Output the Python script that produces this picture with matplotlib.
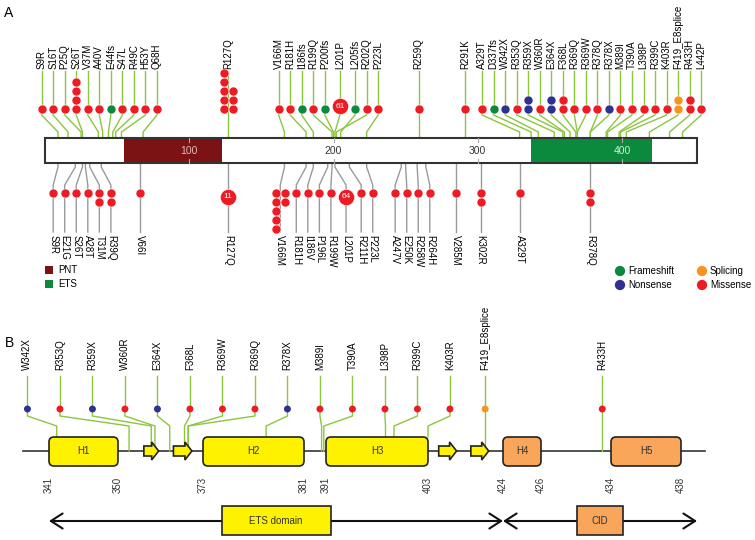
import numpy as np
import matplotlib
matplotlib.use("Agg")
import matplotlib.pyplot as plt
from matplotlib.patches import Rectangle, FancyBboxPatch, Polygon

plt.rcParams["font.family"] = ["Liberation Sans", "DejaVu Sans"]

# ---------------- panel A data ----------------
protein_len = 452
domain_names = ["PNT", "ETS"]
domain_start = [55, 337]
domain_end = [123, 421]
axis_ticks = [100, 200, 300, 400]

top_names = ["S9R", "S16T", "P25Q", "S26T", "V37M", "A40V", "E44fs", "S47L", "R49C",
             "H53Y", "Q68H", "R127Q", "V166M", "R181H", "I186fs", "R199Q", "P200fs",
             "L201P", "L205fs", "R202Q", "P223L", "R259Q", "R291K", "A329T", "D337fs",
             "W342X", "R353Q", "R359X", "W360R", "E364X", "F368L", "R369Q", "R369W",
             "R378Q", "R378X", "M389I", "T390A", "L398P", "R399C", "K403R",
             "F419_E8splice", "R433H", "L442P"]
top_pos = [9, 16, 25, 26, 37, 40, 44, 47, 49, 53, 68, 127, 166, 181, 186, 199, 200,
           201, 205, 202, 223, 259, 291, 329, 337, 342, 353, 359, 360, 364, 368, 369,
           369, 378, 378, 389, 390, 398, 399, 403, 419, 433, 442]
top_count = [1, 1, 1, 4, 1, 1, 1, 1, 1, 1, 1, 8, 1, 1, 1, 1, 1, 61, 1, 1, 1, 1, 1, 1,
             1, 1, 1, 2, 1, 2, 2, 1, 1, 1, 1, 1, 1, 1, 1, 1, 2, 2, 1]
top_class = ["M", "M", "M", "M", "M", "M", "F", "M", "M", "M", "M", "M", "M", "M", "F",
             "M", "F", "M", "F", "M", "M", "M", "M", "M", "F", "N", "M", "N", "M", "N",
             "M", "M", "M", "M", "N", "M", "M", "M", "M", "M", "S", "M", "M"]

bottom_names = ["S9R", "E21G", "S26T", "A28T", "T31M", "R39Q", "V66I", "R127Q", "V166M",
                "R181H", "I186V", "P196L", "R199W", "L201P", "R211H", "P223L", "A247V",
                "E250K", "R258W", "R264H", "V285M", "K302R", "A329T", "R378Q"]
bottom_pos = [9, 21, 26, 28, 31, 39, 66, 127, 166, 181, 186, 196, 199, 201, 211, 223,
              247, 250, 258, 264, 285, 302, 329, 378]
bottom_count = [1, 1, 1, 1, 2, 2, 1, 11, 7, 1, 1, 1, 1, 64, 1, 1, 1, 1, 1, 1, 1, 2, 1, 2]
bottom_class = ["M"] * len(bottom_names)

class_names = {"F": "Frameshift", "N": "Nonsense", "S": "Splicing", "M": "Missense"}
class_colors = {"F": "#0b8a3e", "N": "#2e3192", "S": "#f7941d", "M": "#ed1c24"}

# ---------------- panel B data ----------------
b_names = ["W342X", "R353Q", "R359X", "W360R", "E364X", "F368L", "R369W", "R369Q",
           "R378X", "M389I", "T390A", "L398P", "R399C", "K403R", "F419_E8splice", "R433H"]
b_pos = [342, 353, 359, 360, 364, 368, 369, 369, 378, 389, 390, 398, 399, 403, 419, 433]
b_class = ["N", "M", "N", "M", "N", "M", "M", "M", "N", "M", "M", "M", "M", "M", "S", "M"]

helix_names = ["H1", "H2", "H3", "H4", "H5"]
helix_start = [341, 373, 391, 424, 434]
helix_end = [350, 381, 403, 426, 438]
strand_start = [357, 365, 406, 415]
strand_end = [361, 370, 411, 420]
region_names = ["ETS domain", "CID"]
region_start = [341, 424]
region_end = [424, 440]

# schematic (non-linear) residue -> x mapping used in panel B
knot_aa = [336, 341, 350, 373, 381, 391, 403, 424, 426, 434, 438, 441]
knot_x = [23, 49, 118, 203, 304, 326, 428, 503, 541, 611, 681, 705]

GREEN_LINE = "#8cc63f"
GREY_LINE = "#9a9a9a"
YELLOW = "#fff200"
ORANGE = "#f9a65a"


def spread(targets, half_w):
    """Keep labels in order, at least half_w[i]+half_w[i+1] apart, as close to
    their targets as possible (pool-adjacent-violators)."""
    targets = np.asarray(targets, float)
    half_w = np.asarray(half_w, float)
    offs = np.concatenate([[0.0], np.cumsum(half_w[:-1] + half_w[1:])])
    blocks = []
    for v in targets - offs:
        blocks.append([v, 1])
        while len(blocks) > 1 and blocks[-2][0] / blocks[-2][1] > blocks[-1][0] / blocks[-1][1]:
            s, c = blocks.pop()
            blocks[-1][0] += s
            blocks[-1][1] += c
    fitted = np.concatenate([[s / c] * c for s, c in blocks])
    return fitted + offs


def n_cols(count):
    return 0 if count >= 10 else int(np.ceil(count / 5))


fig = plt.figure(figsize=(7.55, 5.4), dpi=100)
px_per_aa = 1.4425
axA = fig.add_axes([0, 0, 1, 1])
axA.set_xlim(-45 / px_per_aa, (755 - 45) / px_per_aa)
axA.set_ylim(540, 0)
axA.axis("off")
axB = fig.add_axes([0, 0, 1, 1])
axB.set_xlim(0, 755)
axB.set_ylim(540, 0)
axB.axis("off")
axB.patch.set_alpha(0)

SLOT = 8.0          # label spacing, residues
COL = 9 / px_per_aa  # dot column spacing
BAR_TOP, BAR_BOT = 138, 163
DOT_STEP = 9


def half_widths(counts):
    hw = []
    for c in counts:
        k = n_cols(c)
        hw.append(SLOT / 2 + (2.5 if k == 0 else (k - 1) * COL / 2))
    return hw


def draw_stack(ax, x, y0, count, cls, direction, xstep, dot_s, big_s, big_off):
    color = class_colors[cls]
    if count >= 10:
        ax.scatter([x], [y0 + direction * big_off], s=big_s, color=color,
                   edgecolors="white", linewidths=0.4, zorder=6)
        ax.text(x, y0 + direction * big_off, str(count), color="white", fontsize=6,
                ha="center", va="center", zorder=7)
        return
    k = n_cols(count)
    xs, ys = [], []
    for i in range(count):
        col, row = divmod(i, 5)
        xs.append(x + (col - (k - 1) / 2) * xstep)
        ys.append(y0 + direction * row * DOT_STEP)
    ax.scatter(xs, ys, s=dot_s, color=color, edgecolors="white", linewidths=0.4, zorder=6)


# ---------------- panel A ----------------
axA.text(-41 / px_per_aa, 13, "A", fontsize=10, ha="left", va="center")

axA.add_patch(Rectangle((0, BAR_TOP), protein_len, BAR_BOT - BAR_TOP, facecolor="white",
                        edgecolor="none", zorder=2))
dom_colors = ["#7b1214", "#0b8a3e"]
for s, e, c in zip(domain_start, domain_end, dom_colors):
    axA.add_patch(Rectangle((s, BAR_TOP), e - s, BAR_BOT - BAR_TOP, facecolor=c,
                            edgecolor="none", zorder=3))
axA.add_patch(Rectangle((0, BAR_TOP), protein_len, BAR_BOT - BAR_TOP, facecolor="none",
                        edgecolor="#333333", lw=1.5, zorder=4))
for t in axis_ticks:
    inside = any(s <= t <= e for s, e in zip(domain_start, domain_end))
    tc = "#e3b7b7" if (inside and t < 200) else ("#d5ecd8" if inside else "#333333")
    axA.plot([t, t], [BAR_TOP, BAR_TOP + 4], color="#aaaaaa", lw=0.8, zorder=4)
    axA.plot([t, t], [BAR_BOT - 4, BAR_BOT], color="#aaaaaa", lw=0.8, zorder=4)
    axA.text(t, (BAR_TOP + BAR_BOT) / 2 + 1, str(t), fontsize=7.5, color=tc,
             ha="center", va="center", zorder=5)

# mutations above the bar
TOP_DOT, TOP_LABEL = 109, 69
top_x = spread(top_pos, half_widths(top_count))
for name, t, lx, cnt, cls in zip(top_names, top_pos, top_x, top_count, top_class):
    axA.text(lx, TOP_LABEL, name, rotation=90, ha="center", va="bottom", fontsize=7)
    axA.plot([lx, lx], [TOP_LABEL + 2, TOP_DOT], color=GREEN_LINE, lw=1, zorder=1)
    axA.plot([lx, lx, t, t], [TOP_DOT, 115, 132, BAR_TOP], color=GREEN_LINE, lw=1, zorder=1)
    draw_stack(axA, lx, TOP_DOT, cnt, cls, -1, COL, 42, 135, 3)

# mutations below the bar
BOT_DOT, BOT_LABEL = 193, 235
bot_x = spread(bottom_pos, half_widths(bottom_count))
for name, t, lx, cnt, cls in zip(bottom_names, bottom_pos, bot_x, bottom_count, bottom_class):
    axA.text(lx, BOT_LABEL, name, rotation=270, ha="center", va="top", fontsize=7)
    axA.plot([t, t, lx, lx], [BAR_BOT, 167, 185, BOT_LABEL - 3], color=GREY_LINE, lw=1, zorder=1)
    draw_stack(axA, lx, BOT_DOT, cnt, cls, 1, COL, 42, 135, 4)

# legends
for i, (name, c) in enumerate(zip(domain_names, dom_colors)):
    axB.add_patch(Rectangle((45, 266 + i * 14), 8, 8, facecolor=c, edgecolor="none"))
    axB.text(58, 270 + i * 14, name, fontsize=7, va="center", ha="left")
for i, key in enumerate(["F", "N", "S", "M"]):
    x = 620 + (i // 2) * 82
    y = 271 + (i % 2) * 14
    axB.scatter([x], [y], s=55, color=class_colors[key], edgecolors="none")
    axB.text(x + 8, y, class_names[key], fontsize=7, va="center", ha="left")

# ---------------- panel B ----------------
def sx(aa):
    return np.interp(aa, knot_aa, knot_x)


axB.text(5, 343, "B", fontsize=10, ha="left", va="center")
BASE_Y, H_TOP, H_BOT = 451, 437, 466
axB.plot([sx(knot_aa[0]), sx(knot_aa[-1])], [BASE_Y, BASE_Y], color="#333333", lw=1.2, zorder=1)

for name, s, e in zip(helix_names, helix_start, helix_end):
    x0, x1 = sx(s), sx(e)
    fc = YELLOW if s < 420 else ORANGE
    axB.add_patch(FancyBboxPatch((x0, H_TOP), x1 - x0, H_BOT - H_TOP,
                                 boxstyle="round,pad=0,rounding_size=5",
                                 facecolor=fc, edgecolor="#222222", lw=1.2, zorder=3))
    axB.text((x0 + x1) / 2, (H_TOP + H_BOT) / 2, name, fontsize=7, ha="center",
             va="center", color="#333333", zorder=4)
    for aa in (s, e):
        axB.text(sx(aa), 485, str(aa), rotation=90, fontsize=7, ha="center",
                 va="center", color="#333333")

for s, e in zip(strand_start, strand_end):
    x0, x1 = sx(s), sx(e)
    hx = x1 - 7
    pts = [(x0, 446), (hx, 446), (hx, 442), (x1, BASE_Y), (hx, 460), (hx, 456), (x0, 456)]
    axB.add_patch(Polygon(pts, closed=True, facecolor=YELLOW, edgecolor="#222222",
                          lw=1.2, zorder=3))


def target_y(x):
    for s, e in zip(helix_start, helix_end):
        if sx(s) <= x <= sx(e):
            return H_TOP
    for s, e in zip(strand_start, strand_end):
        if sx(s) <= x <= sx(e):
            return 445
    return BASE_Y


B_DOT, B_LABEL = 409, 370
b_tx = sx(b_pos)
b_x = spread(b_tx, [16.25] * len(b_tx))
for name, tx, lx, cls in zip(b_names, b_tx, b_x, b_class):
    axB.text(lx, B_LABEL, name, rotation=90, ha="center", va="bottom", fontsize=7)
    axB.plot([lx, lx], [B_LABEL + 6, B_DOT], color=GREEN_LINE, lw=1, zorder=1)
    axB.plot([lx, lx, tx, tx], [B_DOT, 416, 426, target_y(tx)], color=GREEN_LINE,
             lw=1, zorder=2)
    axB.scatter([lx], [B_DOT], s=25, color=class_colors[cls], edgecolors="none", zorder=5)

# domain arrows
REG_Y = 521
box_w = [109, 46]
box_fc = [YELLOW, ORANGE]
for name, s, e, w, fc in zip(region_names, region_start, region_end, box_w, box_fc):
    x0, x1 = sx(s), sx(e)
    axB.annotate("", xy=(x1, REG_Y), xytext=(x0, REG_Y),
                 arrowprops=dict(arrowstyle="<->,head_length=0.7,head_width=0.45",
                                 lw=1.5, color="#111111", shrinkA=0, shrinkB=0,
                                 mutation_scale=12), zorder=2)
    xc = (x0 + x1) / 2
    axB.add_patch(Rectangle((xc - w / 2, 506), w, 29, facecolor=fc, edgecolor="#222222",
                            lw=1.2, zorder=3))
    axB.text(xc, REG_Y, name, fontsize=7, ha="center", va="center", color="#333333", zorder=4)

fig.savefig("out.png", dpi=100)
